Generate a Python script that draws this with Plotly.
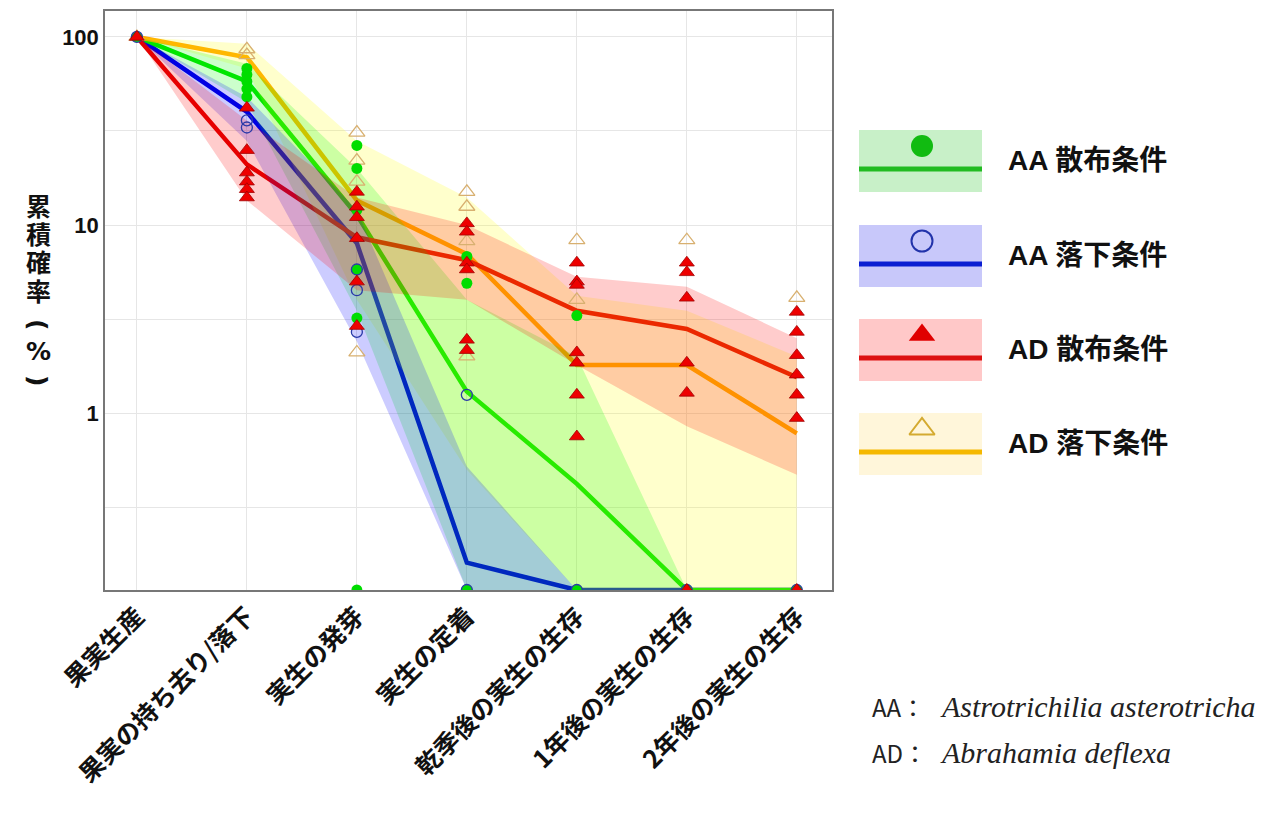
import plotly.graph_objects as go

# ---------------- data (values in %) ----------------
stages = ["果実生産", "果実の持ち去り/落下", "実生の発芽", "実生の定着",
          "乾季後の実生の生存", "1年後の実生の生存", "2年後の実生の生存"]

# mean lines
aa_disp_mean = [100, 58, 11.3, 1.3, 0.42, 0, 0]
aa_drop_mean = [100, 40, 8.0, 0.16, 0, 0, 0]
ad_disp_mean = [100, 21, 8.6, 6.5, 3.5, 2.8, 1.55]
ad_drop_mean = [100, 78, 13.5, 7.0, 1.8, 1.8, 0.78]

# ribbons (lower / upper)
aa_disp_lo = [100, 45, 3.5, 0, 0, 0, 0]
aa_disp_hi = [100, 72, 20, 4.0, 2.0, 0, 0]
aa_drop_lo = [100, 28, 2.4, 0, 0, 0, 0]
aa_drop_hi = [100, 48, 12, 0.52, 0, 0, 0]
ad_disp_lo = [100, 13.5, 4.5, 4.0, 1.8, 0.85, 0.47]
ad_disp_hi = [100, 36, 14, 10, 5.3, 4.7, 2.5]
ad_drop_lo = [100, 68, 4.0, 0.5, 0, 0, 0]
ad_drop_hi = [100, 92, 28, 14, 4.2, 3.5, 2.0]

# individual observations per stage
aa_disp_pts = [[100], [68, 63, 58, 53, 48], [26.5, 20, 12, 5.8, 3.2, 0],
               [6.8, 4.9, 0], [3.3, 0], [0], [0]]
aa_drop_pts = [[100], [36, 33], [5.8, 4.5, 2.7], [1.25, 0], [0], [0], [0]]
ad_disp_pts = [[100], [42, 25, 19, 17, 15.5, 14], [15, 12.5, 11, 8.5, 5, 2.9],
               [10.2, 9.2, 6.3, 5.8, 2.45, 2.16],
               [6.3, 5.0, 4.8, 2.1, 1.85, 1.25, 0.75],
               [6.3, 5.6, 4.1, 1.85, 1.28, 0],
               [3.45, 2.7, 2.03, 1.6, 1.25, 0.94, 0]]
ad_drop_pts = [[100], [86, 80], [31, 22, 17, 2.1], [15, 12.5, 8.2, 2.0],
               [8.3, 4.0], [8.3], [4.1]]

legend_labels = ["AA 散布条件", "AA 落下条件", "AD 散布条件", "AD 落下条件"]
y_tick_vals = [1, 10, 100]
y_tick_text = ["1", "10", "100"]
# y-axis title: upright stacked characters; parentheses are turned (vertical writing)
y_title_chars = ["累", "積", "確", "率", "(", "%", ")"]
y_title_turn = [0, 0, 0, 0, 90, 0, 90]

# ---------------- layout geometry (screen pixels) ----------------
OFF = 8                      # page body margin
SCR_W, SCR_H = 1279, 820
W, H = SCR_W - OFF, SCR_H - OFF
PX_L, PX_R, PX_T, PX_B = 105, 832, 11, 590
Y_LOG_MIN, Y_LOG_MAX = -0.941, 2.138
X_MIN, X_MAX = -0.29, 6.32
FLOOR = 10 ** Y_LOG_MIN          # zeros are drawn on the bottom edge
GRID = "#e6e6e6"
CJK = "Noto Sans CJK JP"


def fl(vals):
    return [v if v > 0 else FLOOR for v in vals]


xs = list(range(len(stages)))

series = {
    "aa_disp": dict(mean=aa_disp_mean, lo=aa_disp_lo, hi=aa_disp_hi, pts=aa_disp_pts,
                    line="#00e000", fill="rgba(0,255,0,0.2)",
                    marker=dict(symbol="circle", size=11, color="#00dd00",
                                line=dict(width=0))),
    "aa_drop": dict(mean=aa_drop_mean, lo=aa_drop_lo, hi=aa_drop_hi, pts=aa_drop_pts,
                    line="#0000dd", fill="rgba(0,0,255,0.2)",
                    marker=dict(symbol="circle-open", size=11, color="#2a3aa8",
                                line=dict(width=1.3))),
    "ad_disp": dict(mean=ad_disp_mean, lo=ad_disp_lo, hi=ad_disp_hi, pts=ad_disp_pts,
                    line="#e00000", fill="rgba(255,0,0,0.2)",
                    marker=dict(symbol="triangle-up", size=13, color="#ee0000",
                                line=dict(width=0.8, color="#a00000"))),
    "ad_drop": dict(mean=ad_drop_mean, lo=ad_drop_lo, hi=ad_drop_hi, pts=ad_drop_pts,
                    line="#ffa500", fill="rgba(255,255,0,0.2)",
                    marker=dict(symbol="triangle-up-open", size=14, color="#d8b070",
                                line=dict(width=1.3))),
}

fig = go.Figure()

# lines (drawn below the translucent ribbons, as in the original)
for key in ["aa_drop", "aa_disp", "ad_drop", "ad_disp"]:
    s = series[key]
    fig.add_trace(go.Scatter(x=xs, y=fl(s["mean"]), mode="lines",
                             line=dict(color=s["line"], width=4.5),
                             hoverinfo="skip", showlegend=False))

# ribbons
for key in ["ad_drop", "aa_disp", "aa_drop", "ad_disp"]:
    s = series[key]
    fig.add_trace(go.Scatter(x=xs + xs[::-1], y=fl(s["hi"]) + fl(s["lo"])[::-1],
                             mode="lines", fill="toself", fillcolor=s["fill"],
                             line=dict(width=0), hoverinfo="skip", showlegend=False))

# points
for key in ["ad_drop", "aa_disp", "aa_drop", "ad_disp"]:
    s = series[key]
    px = [i for i, grp in enumerate(s["pts"]) for _ in grp]
    py = [v for grp in s["pts"] for v in grp]
    fig.add_trace(go.Scatter(x=px, y=fl(py), mode="markers", marker=s["marker"],
                             showlegend=False, cliponaxis=True))

# ---------------- custom legend on a pixel-unit overlay axis ----------------
leg_tops = [130, 225, 319, 413]
leg_fill = ["#c8f0c8", "#c8c8fa", "#ffc8c8", "#fff6da"]
leg_line = ["#22bb22", "#0a1ed2", "#dd1111", "#f5b800"]
leg_marker = [
    dict(symbol="circle", size=22, color="#11bb11", line=dict(width=0)),
    dict(symbol="circle-open", size=21, color="#2233aa", line=dict(width=2)),
    dict(symbol="triangle-up", size=23, color="#e00000", line=dict(width=0)),
    dict(symbol="triangle-up-open", size=22, color="#d4aa30", line=dict(width=2)),
]
shapes = []
annotations = []
for i, top in enumerate(leg_tops):
    shapes.append(dict(type="rect", xref="x2", yref="y2", x0=859, x1=982,
                       y0=top, y1=top + 62, fillcolor=leg_fill[i],
                       line=dict(width=0), layer="below"))
    shapes.append(dict(type="line", xref="x2", yref="y2", x0=859, x1=982,
                       y0=top + 39, y1=top + 39,
                       line=dict(color=leg_line[i], width=5)))
    fig.add_trace(go.Scatter(x=[922], y=[top + 16], xaxis="x2", yaxis="y2",
                             mode="markers", marker=leg_marker[i],
                             showlegend=False, hoverinfo="skip"))
    annotations.append(dict(xref="x2", yref="y2", x=1006, y=top + 30,
                            text="<b>" + legend_labels[i] + "</b>",
                            showarrow=False, xanchor="left", yanchor="middle",
                            font=dict(family="Liberation Sans, " + CJK, size=28,
                                      color="#111")))

# y-axis title, stacked upright characters
title_y = [207, 235, 263, 292, 324, 351, 380]
for ch, turn, yy in zip(y_title_chars, y_title_turn, title_y):
    annotations.append(dict(xref="x2", yref="y2", x=38, y=yy, text="<b>" + ch + "</b>",
                            textangle=turn, showarrow=False,
                            xanchor="center", yanchor="middle",
                            font=dict(family="DejaVu Sans, " + CJK, size=25,
                                      color="#111")))

# species note
notes = [("AA：", "Astrotrichilia asterotricha", 706),
         ("AD：", "Abrahamia deflexa", 752)]
for abbr, sp, yy in notes:
    annotations.append(dict(xref="x2", yref="y2", x=870, y=yy, text=abbr,
                            showarrow=False, xanchor="left", yanchor="middle",
                            font=dict(family="Noto Sans CJK JP", size=24, color="#222")))
    annotations.append(dict(xref="x2", yref="y2", x=938, y=yy, text="<i>" + sp + "</i>",
                            showarrow=False, xanchor="left", yanchor="middle",
                            font=dict(family="Liberation Serif", size=30, color="#222")))

fig.update_layout(
    template="none",
    width=W, height=H,
    margin=dict(l=0, r=0, t=0, b=0),
    paper_bgcolor="white",
    plot_bgcolor="rgba(0,0,0,0)",
    showlegend=False,
    xaxis=dict(domain=[(PX_L - OFF) / W, (PX_R - OFF) / W], range=[X_MIN, X_MAX],
               tickmode="array", tickvals=xs,
               ticktext=["<b>" + t + "</b>" for t in stages],
               tickangle=-45, tickfont=dict(family=CJK, size=25, color="#111"),
               showgrid=True, gridcolor=GRID, gridwidth=1, zeroline=False,
               showline=True, mirror=True, linecolor="#777", linewidth=1.5,
               ticks="", automargin=False),
    yaxis=dict(domain=[(SCR_H - PX_B) / H, (SCR_H - PX_T) / H], type="log",
               range=[Y_LOG_MIN, Y_LOG_MAX],
               tickmode="array", tickvals=y_tick_vals,
               ticktext=["<b>" + t + "</b>" for t in y_tick_text],
               tickfont=dict(family="Liberation Sans", size=22, color="#111"),
               showgrid=True, gridcolor=GRID, gridwidth=1, zeroline=False,
               minor=dict(tickvals=[10 ** -0.5, 10 ** 0.5, 10 ** 1.5], showgrid=True,
                          gridcolor=GRID, gridwidth=1, ticks=""),
               showline=True, mirror=True, linecolor="#777", linewidth=1.5,
               ticks="", automargin=False),
    xaxis2=dict(domain=[0, 1], range=[OFF, SCR_W], visible=False, showgrid=False,
                zeroline=False, fixedrange=True),
    yaxis2=dict(domain=[0, 1], range=[SCR_H, OFF], visible=False, showgrid=False,
                zeroline=False, fixedrange=True, anchor="x2"),
    shapes=shapes,
    annotations=annotations,
)

fig.write_html("out.html")
